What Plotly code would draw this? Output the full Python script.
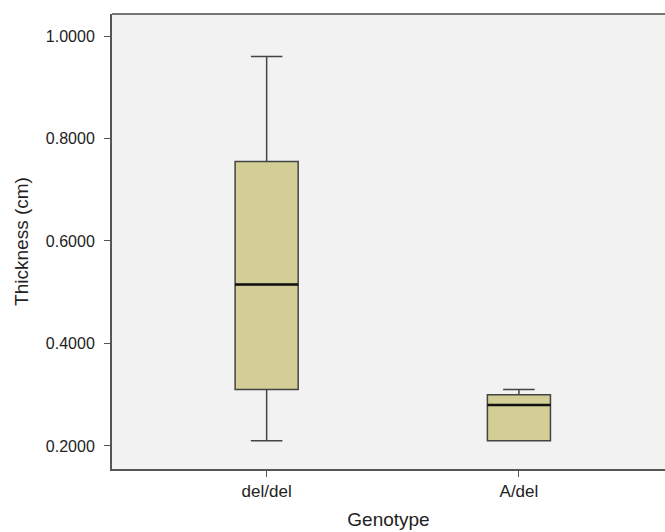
import plotly.graph_objects as go

categories = ["del/del", "A/del"]
lower_whisker = [0.21, 0.21]
q1 = [0.31, 0.21]
median = [0.515, 0.28]
q3 = [0.755, 0.30]
upper_whisker = [0.96, 0.31]
y_ticks = [0.2, 0.4, 0.6, 0.8, 1.0]

FILL = "rgb(210,206,150)"
FONT = "Liberation Sans, Arial, Helvetica, sans-serif"
BOX_W = 0.25

fig = go.Figure()
fig.add_trace(go.Box(
    x=categories,
    q1=q1, median=median, q3=q3,
    lowerfence=lower_whisker, upperfence=upper_whisker,
    fillcolor=FILL,
    line=dict(color="#444444", width=1.5),
    whiskerwidth=0.5,
    width=BOX_W,
    boxpoints=False,
    showlegend=False,
    hoverinfo="skip",
))

# thicker black median lines
for i, c in enumerate(categories):
    fig.add_trace(go.Scatter(
        x=[i - BOX_W / 2, i + BOX_W / 2], y=[median[i], median[i]],
        mode="lines", line=dict(color="#111111", width=2.5),
        showlegend=False, hoverinfo="skip", xaxis="x2",
    ))

fig.update_layout(
    width=665, height=532,
    margin=dict(l=112, r=0, t=14, b=63),
    paper_bgcolor="white",
    plot_bgcolor="#f2f2f2",
    font=dict(family=FONT, size=16, color="#222222"),
    xaxis=dict(
        type="category",
        range=[-0.613, 1.579],
        showline=True, linecolor="#555555", linewidth=2,
        ticks="outside", ticklen=6, tickcolor="#555555",
        showgrid=False, zeroline=False,
        title=dict(text="Genotype", font=dict(size=19), standoff=12),
        tickfont=dict(size=17),
    ),
    xaxis2=dict(
        overlaying="x", range=[-0.613, 1.579], visible=False,
    ),
    yaxis=dict(
        range=[0.155, 1.043],
        tickvals=y_ticks, tickformat=".4f",
        showline=True, linecolor="#555555", linewidth=2,
        ticks="outside", ticklen=6, tickcolor="#555555",
        ticklabelstandoff=6,
        showgrid=False, zeroline=False,
        title=dict(text="Thickness (cm)", font=dict(size=19), standoff=12),
        tickfont=dict(size=16),
    ),
    shapes=[dict(type="line", xref="paper", yref="paper", x0=0, x1=1, y0=1, y1=1,
                 line=dict(color="#777777", width=2))],
)

fig.write_html("out.html", config={"displayModeBar": False, "staticPlot": True})
with open("out.html", "r", encoding="utf-8") as f:
    html = f.read()
html = html.replace("<body>", '<body style="margin:0;padding:0;overflow:hidden">', 1)
with open("out.html", "w", encoding="utf-8") as f:
    f.write(html)
